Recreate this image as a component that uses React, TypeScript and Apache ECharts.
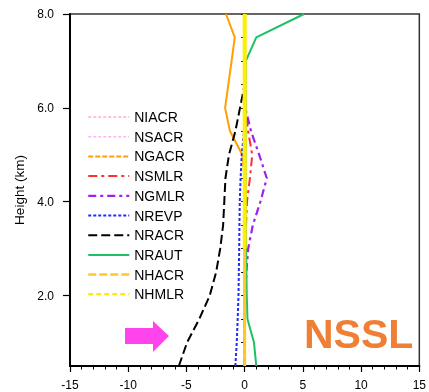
import React, { useEffect, useRef } from 'react';
import * as echarts from 'echarts';

// Heights (km) at which each profile is sampled
const heights = [0.5, 1.0, 1.5, 2.0, 2.5, 3.0, 3.5, 4.0, 4.5, 5.0, 5.5, 6.0, 6.5, 7.0, 7.5, 8.0];

const NIACR = [0, 0, 0, 0, 0, 0, 0, 0, 0, 0, 0, 0, 0, 0, 0, 0];
const NSACR = [0, 0, 0, 0, 0, 0, 0, 0, 0, 0, 0, 0, 0, 0, 0, 0];
const NGACR = [0, 0, 0, 0, 0, 0, 0, 0, 0, -0.2, -1.26, -1.68, -1.4, -1.12, -0.85, -1.6];
const NSMLR = [0, 0, 0, 0, 0.02, 0.05, 0.12, 0.2, 0.45, 0.65, 0.3, 0.05, 0, 0, 0, 0];
const NGMLR = [0, 0, 0, 0.05, 0.15, 0.3, 0.7, 1.35, 1.9, 1.25, 0.55, 0.05, 0, 0, 0, 0];
const NREVP = [-0.8, -0.68, -0.6, -0.53, -0.5, -0.47, -0.45, -0.42, -0.35, -0.25, -0.05, 0, 0, 0, 0, 0];
const NRACR = [-5.65, -4.95, -3.9, -3.0, -2.45, -2.1, -1.85, -1.75, -1.65, -1.35, -0.8, -0.4, 0, 0, 0, 0];
const NRAUT = [1.0, 0.8, 0.24, 0.18, 0.15, 0.12, 0.08, 0.08, 0.08, 0.08, 0.08, 0.08, 0.08, 0.1, 1.0, 5.1];
const NHACR = [0, 0, 0, 0, 0, 0, 0, 0, 0, 0, 0, 0, 0, 0, 0, 0];
const NHMLR = [null, null, null, null, null, 0, 0, 0, 0, 0, 0, 0, 0, 0, 0, 0];

const yMajorTicks = [2, 4, 6, 8];

const FONT = 'Liberation Sans, Arial, Helvetica, sans-serif';

type Def = {
  name: string;
  values: (number | null)[];
  color: string;
  width: number;
  type: any;
  legendType?: any;
};

const defs: Def[] = [
  { name: 'NIACR', values: NIACR, color: '#FFB0C4', width: 1.5, type: [3, 2] },
  { name: 'NSACR', values: NSACR, color: '#FFB4F6', width: 1.5, type: [3, 2] },
  { name: 'NGACR', values: NGACR, color: '#FFA000', width: 2, type: 'solid', legendType: [5, 2] },
  { name: 'NSMLR', values: NSMLR, color: '#FF3030', width: 2, type: [9, 4, 3, 4] },
  { name: 'NGMLR', values: NGMLR, color: '#A020F0', width: 2.2, type: [8, 4, 3, 4] },
  { name: 'NREVP', values: NREVP, color: '#1E2CFF', width: 2, type: [3, 2] },
  { name: 'NRACR', values: NRACR, color: '#000000', width: 2, type: [9, 4] },
  { name: 'NRAUT', values: NRAUT, color: '#1EC064', width: 2, type: 'solid' },
  { name: 'NHACR', values: NHACR, color: '#FFC828', width: 3, type: 'solid', legendType: [8, 3] },
  { name: 'NHMLR', values: NHMLR, color: '#FFEE00', width: 4, type: 'solid', legendType: [5, 3] },
];

export default function App() {
  const ref = useRef<HTMLDivElement>(null);
  useEffect(() => {
    const chart = echarts.init(ref.current!, null, { renderer: 'svg' });
    const series = defs.map((d) => ({
      name: d.name,
      type: 'line',
      symbol: 'none',
      showSymbol: false,
      xAxisIndex: 0,
      yAxisIndex: 0,
      clip: true,
      data: heights
        .map((h, i) => (d.values[i] == null ? null : [d.values[i], h]))
        .filter((p) => p !== null),
      lineStyle: { color: d.color, width: d.width, type: d.type },
      itemStyle: { color: d.color },
    }));
    const legendData = defs.map((d) => ({
      name: d.name,
      itemStyle: { opacity: 0 },
      lineStyle: { color: d.color, width: Math.min(d.width, 2.5), type: d.legendType ?? d.type },
    }));
    chart.setOption({
      animation: false,
      textStyle: { fontFamily: FONT },
      grid: {
        left: 70,
        top: 14,
        width: 353,
        height: 352,
        show: true,
        borderColor: '#333',
        borderWidth: 1.5,
        backgroundColor: 'transparent',
      },
      legend: {
        orient: 'vertical',
        left: 82,
        top: 105,
        itemWidth: 41,
        itemHeight: 14,
        itemGap: 5.7,
        itemStyle: { opacity: 0 },
        textStyle: { fontSize: 14, color: '#000', fontFamily: FONT },
        data: legendData,
      },
      xAxis: {
        type: 'value',
        min: -15,
        max: 15,
        interval: 5,
        axisLine: { show: true, onZero: false, lineStyle: { color: '#000', width: 2 } },
        axisTick: { show: true, length: 6, lineStyle: { color: '#000', width: 1.2 } },
        minorTick: { show: true, splitNumber: 5, length: 3.5, lineStyle: { color: '#000', width: 1 } },
        splitLine: { show: false },
        axisLabel: { fontSize: 12, color: '#000', margin: 13, fontFamily: FONT },
      },
      yAxis: [
        {
          type: 'value',
          min: 0.5,
          max: 8,
          position: 'left',
          name: 'Height (km)',
          nameLocation: 'middle',
          nameGap: 38,
          nameTextStyle: { fontSize: 13.5, color: '#000', fontFamily: FONT },
          axisLine: { show: true, onZero: false, lineStyle: { color: '#000', width: 2 } },
          axisTick: { show: true, customValues: yMajorTicks, length: 7, lineStyle: { color: '#000', width: 1.2 } },
          axisLabel: {
            customValues: yMajorTicks,
            formatter: (v: number) => v.toFixed(1),
            fontSize: 12,
            color: '#000',
            margin: 16,
            fontFamily: FONT,
          },
          splitLine: { show: false },
        },
        {
          type: 'value',
          min: 0.5,
          max: 8,
          interval: 0.5,
          position: 'left',
          offset: 0,
          axisLine: { show: false },
          axisTick: { show: true, length: 3.5, lineStyle: { color: '#000', width: 1 } },
          axisLabel: { show: false },
          splitLine: { show: false },
        },
      ],
      graphic: [
        {
          type: 'polygon',
          shape: {
            points: [
              [125, 328],
              [153, 328],
              [153, 321],
              [169, 336],
              [153, 352],
              [153, 344],
              [125, 344],
            ],
          },
          style: { fill: '#FF44EE' },
          z: 100,
        },
        {
          type: 'text',
          x: 304,
          y: 334,
          style: {
            text: 'NSSL',
            fill: '#EE7F35',
            font: 'bold 41px Liberation Sans, Arial, sans-serif',
            textVerticalAlign: 'middle',
            textAlign: 'left',
          },
          z: 100,
        },
      ],
      series,
    });
    return () => chart.dispose();
  }, []);
  return <div ref={ref} style={{ position: 'fixed', left: 0, top: 0, width: 429, height: 392 }} />;
}
